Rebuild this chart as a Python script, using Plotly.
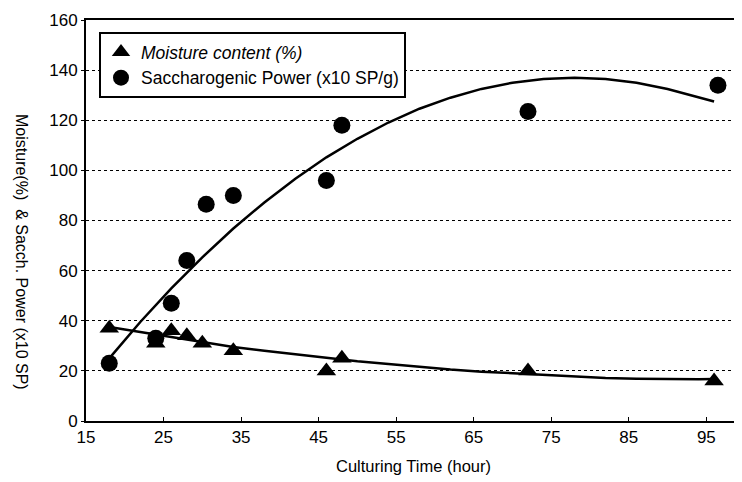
import plotly.graph_objects as go

# Measured points
moist_x = [18, 24, 26, 28, 30, 34, 46, 48, 72, 96]
moist_y = [37, 31, 36, 34, 31, 28, 20, 25, 20, 16]

sp_x = [18, 24, 26, 28, 30.5, 34, 46, 48, 72, 96.5]
sp_y = [23, 33, 47, 64, 86.5, 90, 96, 118, 123.5, 134]

# Trend curves
curve_x = [18, 22, 26, 30, 34, 38, 42, 46, 50, 54, 58, 62, 66, 70, 74, 78, 82, 86, 90, 94, 96]
sp_curve_y = [25, 39.5, 52.9, 65.3, 76.8, 87.2, 96.7, 105.2, 112.6, 119.1, 124.6, 129,
              132.5, 135, 136.5, 137, 136.5, 135, 132.5, 129, 127.5]
moist_curve_y = [37.5, 35.5, 33.5, 31.5, 29.5, 28, 26.5, 25, 23.8, 22.7, 21.5, 20.5,
                 19.7, 19, 18.3, 17.6, 17.2, 16.9, 16.7, 16.7, 16.8]

x_ticks = [15, 25, 35, 45, 55, 65, 75, 85, 95]
y_ticks = [0, 20, 40, 60, 80, 100, 120, 140, 160]

FONT = "Arial, Liberation Sans, sans-serif"
PW, PH = 656, 401  # plot area size in px

fig = go.Figure()
fig.add_trace(go.Scatter(x=curve_x, y=sp_curve_y, mode="lines",
                         line=dict(color="black", width=2.5), showlegend=False, hoverinfo="skip"))
fig.add_trace(go.Scatter(x=curve_x, y=moist_curve_y, mode="lines",
                         line=dict(color="black", width=2.5), showlegend=False, hoverinfo="skip"))
fig.add_trace(go.Scatter(x=moist_x, y=moist_y, mode="markers", name="<i>Moisture content (%)</i>",
                         legendgroup="a",
                         marker=dict(symbol="triangle-up", size=17, color="black")))
fig.add_trace(go.Scatter(x=sp_x, y=sp_y, mode="markers", name="Saccharogenic Power (x10 SP/g)",
                         legendgroup="b",
                         marker=dict(symbol="circle", size=17, color="black")))

# the page body has an 8px margin, so the figure is 8px smaller and margins compensate
fig.update_layout(
    width=734, height=474,
    margin=dict(l=78, r=0, t=12, b=61),
    paper_bgcolor="white", plot_bgcolor="white",
    font=dict(family=FONT, size=16, color="black"),
    showlegend=True,
    legend=dict(x=13 / PW, y=1 - 12 / PH, xanchor="left", yanchor="top",
                bgcolor="white", bordercolor="black", borderwidth=2,
                font=dict(size=17.5), itemwidth=30, tracegroupgap=5,
                traceorder="normal"),
    xaxis=dict(range=[15, 99.6], tickvals=x_ticks, ticktext=[str(v) for v in x_ticks],
               showline=True, linecolor="black", linewidth=2, mirror=True,
               ticks="inside", ticklen=4, tickcolor="black", showgrid=False, zeroline=False,
               tickfont=dict(size=17), automargin=False),
    yaxis=dict(range=[0, 160], tickvals=y_ticks, ticktext=[str(v) for v in y_ticks],
               showline=True, linecolor="black", linewidth=2,
               ticks="outside", ticklen=3, tickcolor="black",
               showgrid=True, gridcolor="black", gridwidth=1, griddash="dot",
               zeroline=False, tickfont=dict(size=17), automargin=False),
    annotations=[
        dict(text="Moisture(%)  & Sacch. Power (x10 SP)", textangle=90,
             xref="paper", yref="paper", x=-(86 - 21) / PW, y=(421 - 252) / PH,
             xanchor="center", yanchor="middle", showarrow=False,
             font=dict(size=16, family=FONT)),
        dict(text="Culturing Time (hour)",
             xref="paper", yref="paper", x=(413 - 86) / PW, y=-(466 - 421) / PH,
             xanchor="center", yanchor="middle", showarrow=False,
             font=dict(size=16.5, family=FONT)),
    ],
)

fig.write_html("out.html")
